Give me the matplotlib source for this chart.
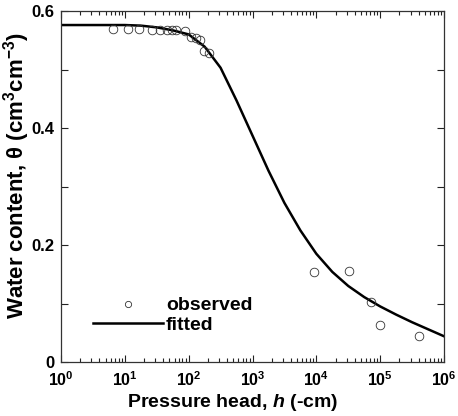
import math
import matplotlib
matplotlib.use("Agg")
import matplotlib.pyplot as plt
from matplotlib.lines import Line2D
from matplotlib.ticker import FixedLocator, FuncFormatter, NullFormatter

plt.rcParams['font.family'] = ['Liberation Sans', 'DejaVu Sans']
plt.rcParams['font.weight'] = 'bold'
plt.rcParams['mathtext.fontset'] = 'custom'
plt.rcParams['mathtext.rm'] = 'Liberation Sans'
plt.rcParams['mathtext.bf'] = 'Liberation Sans:bold'
plt.rcParams['mathtext.it'] = 'Liberation Sans:italic'
plt.rcParams['mathtext.bfit'] = 'Liberation Sans:bold:italic'

# Observed retention data: pressure head (-cm) and water content (cm3/cm3)
obs_h = [6.5, 11.4, 16.7, 26.4, 35.6, 45.3, 54.5, 63, 88, 109, 130, 151, 173, 208,
         9200, 32900, 71900, 99500, 402000]
obs_theta = [0.569, 0.569, 0.569, 0.568, 0.567, 0.567, 0.567, 0.568, 0.565, 0.556,
             0.553, 0.550, 0.532, 0.529, 0.154, 0.156, 0.102, 0.063, 0.044]

# Fitted retention curve, sampled every quarter decade of pressure head
fit_h = [1, 10, 17.8, 31.6, 56.2, 100, 178, 316, 562, 1000, 1780, 3160, 5620,
         10000, 17800, 31600, 56200, 100000, 178000, 316000, 562000, 1000000]
fit_theta = [0.576, 0.576, 0.575, 0.572, 0.567, 0.560, 0.539, 0.503, 0.447, 0.387,
             0.327, 0.272, 0.225, 0.185, 0.154, 0.130, 0.111, 0.095, 0.081, 0.068,
             0.056, 0.044]

x_decades = [0, 1, 2, 3, 4, 5, 6]
y_ticks = [0, 0.2, 0.4, 0.6]
y_ticklabels = ['0', '0.2', '0.4', '0.6']
y_minor = [0.1, 0.3, 0.5]

fig = plt.figure(figsize=(4.58, 4.16), dpi=100)
ax = fig.add_axes([61 / 458, 54 / 416, 383 / 458, 351 / 416])

ax.plot(fit_h, fit_theta, color='black', lw=1.8, solid_joinstyle='round')
ax.plot(obs_h, obs_theta, linestyle='none', marker='o', markersize=6.2,
        markerfacecolor='none', markeredgecolor='#333333', markeredgewidth=0.6)

ax.set_xscale('log')
ax.set_xlim(1, 1e6)
ax.set_ylim(0, 0.6)

x_major = [10.0 ** d for d in x_decades]
x_minor = [s * 10.0 ** d for d in x_decades[:-1] for s in range(2, 10)]
ax.xaxis.set_major_locator(FixedLocator(x_major))
ax.xaxis.set_minor_locator(FixedLocator(x_minor))
ax.xaxis.set_minor_formatter(NullFormatter())
ax.xaxis.set_major_formatter(FuncFormatter(
    lambda v, pos: r'$\mathbf{10^{%d}}$' % round(math.log10(v))))

ax.yaxis.set_major_locator(FixedLocator(y_ticks))
ax.set_yticklabels(y_ticklabels)
ax.yaxis.set_minor_locator(FixedLocator(y_minor))

ax.tick_params(which='both', direction='in', top=True, right=True, colors='#222222',
               width=0.8)
ax.tick_params(axis='x', which='major', length=5, pad=6, labelsize=11.5)
ax.tick_params(axis='x', which='minor', length=3)
ax.tick_params(axis='y', which='both', length=5, pad=5, labelsize=12)
for lab in ax.get_xticklabels() + ax.get_yticklabels():
    lab.set_color('black')

for sp in ax.spines.values():
    sp.set_linewidth(0.9)
    sp.set_color('#333333')

ax.set_xlabel(r'Pressure head, $\mathbfit{h}$ (-cm)', fontsize=14, fontweight='bold')
ax.set_ylabel(r'Water content, $\mathrm{\theta}$ (cm$^{\mathbf{3}}$cm$^{\mathbf{-3}}$)',
              fontsize=16, fontweight='bold')
ax.xaxis.set_label_coords(0.448, -0.086)
ax.yaxis.set_label_coords(-0.075, 0.532)

handles = [
    Line2D([], [], linestyle='none', marker='o', markersize=4.5,
           markerfacecolor='none', markeredgecolor='#333333', markeredgewidth=0.6),
    Line2D([], [], color='black', lw=1.8),
]
ax.legend(handles, ['observed', 'fitted'], loc='center left',
          bbox_to_anchor=(0.0836, 0.133), frameon=False, borderpad=0,
          borderaxespad=0, handlelength=3.6, handletextpad=0.15,
          labelspacing=0.1, prop={'size': 14, 'weight': 'bold'})

fig.savefig('out.png', dpi=100)
